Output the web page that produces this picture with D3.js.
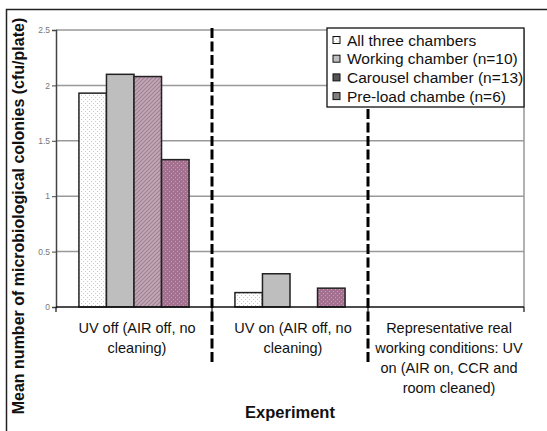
<!DOCTYPE html>
<html>
<head>
<meta charset="utf-8">
<script src="https://cdn.jsdelivr.net/npm/d3@7"></script>
<style>
  html, body { margin: 0; padding: 0; background: #fff; overflow: hidden; }
  svg { display: block; }
</style>
</head>
<body>
<svg width="547" height="431" font-family="Arial, 'Liberation Sans', sans-serif"></svg>
<script>
const categories = [
	['UV off (AIR off, no', 'cleaning)'],
	['UV on (AIR off, no', 'cleaning)'],
	['Representative real', 'working conditions: UV', 'on (AIR on, CCR and', 'room cleaned)']
];
const series = ['All three chambers', 'Working chamber (n=10)', 'Carousel chamber (n=13)', 'Pre-load chambe (n=6)'];
const values = [
	[1.93, 2.10, 2.08, 1.33],
	[0.13, 0.30, 0, 0.17],
	[0, 0, 0, 0]
];
const yTicks = [0, 0.5, 1, 1.5, 2, 2.5];

const svg = d3.select('svg');
const width = +svg.attr('width'),
	height = +svg.attr('height');

const margin = { top: 30, right: 23, bottom: 124, left: 56 },
	innerWidth = width - margin.left - margin.right,
	innerHeight = height - margin.top - margin.bottom;

// patterns for the bar fills
const defs = svg.append('defs');
const dots = (id, bg, fg) => {
	const p = defs.append('pattern').attr('id', id)
		.attr('width', 4).attr('height', 4).attr('patternUnits', 'userSpaceOnUse');
	p.append('rect').attr('width', 4).attr('height', 4).attr('fill', bg);
	p.append('rect').attr('x', 1).attr('y', 1).attr('width', 1).attr('height', 1).attr('fill', fg);
	p.append('rect').attr('x', 3).attr('y', 3).attr('width', 1).attr('height', 1).attr('fill', fg);
};
dots('p0', '#ffffff', '#c8c8c8');
dots('p3', '#a47290', '#c49ab2');
const hatch = defs.append('pattern').attr('id', 'p2')
	.attr('width', 4).attr('height', 4).attr('patternUnits', 'userSpaceOnUse');
hatch.append('rect').attr('width', 4).attr('height', 4).attr('fill', '#c2a9b8');
hatch.append('path').attr('d', 'M-1,1 L1,-1 M0,4 L4,0 M3,5 L5,3')
	.attr('stroke', '#a08092').attr('stroke-width', 1.2);
const fills = ['url(#p0)', '#bebebe', 'url(#p2)', 'url(#p3)'];

// outer frame (only top and left edges are inside the picture)
svg.append('path')
	.attr('d', `M6.5,${height} V9.5 H${width}`)
	.attr('fill', 'none').attr('stroke', '#222').attr('stroke-width', 1.5);

const xScale = d3.scaleBand()
	.domain(d3.range(categories.length))
	.range([0, innerWidth]);

const xSub = d3.scaleBand()
	.domain(d3.range(series.length))
	.range([xScale.bandwidth() * 0.147, xScale.bandwidth() * 0.853]);

const yScale = d3.scaleLinear()
	.domain([0, 2.5])
	.range([innerHeight, 0]);

const g = svg.append('g')
	.attr('transform', `translate(${margin.left}, ${margin.top})`);

// gridlines
g.append('g').selectAll('line').data(yTicks.filter(d => d > 0)).join('line')
	.attr('x1', 0).attr('x2', innerWidth)
	.attr('y1', d => yScale(d)).attr('y2', d => yScale(d))
	.attr('stroke', '#999').attr('stroke-width', 1.5);

g.append('line')
	.attr('x1', innerWidth).attr('x2', innerWidth)
	.attr('y1', 0).attr('y2', innerHeight)
	.attr('stroke', '#999').attr('stroke-width', 1.5);

// bars
const groups = g.selectAll('.grp').data(values).join('g')
	.attr('class', 'grp')
	.attr('transform', (d, i) => `translate(${xScale(i)}, 0)`);

groups.selectAll('rect').data(d => d.map((v, j) => ({ v, j })).filter(d => d.v > 0)).join('rect')
	.attr('x', d => xSub(d.j))
	.attr('width', xSub.bandwidth())
	.attr('y', d => yScale(d.v))
	.attr('height', d => innerHeight - yScale(d.v))
	.attr('fill', d => fills[d.j])
	.attr('stroke', '#222').attr('stroke-width', 1.5);

// y axis
const yAxis = d3.axisLeft(yScale)
	.tickValues(yTicks)
	.tickFormat(d3.format('~g'))
	.tickSize(4)
	.tickPadding(2);

const yAxisG = g.append('g').call(yAxis)
	.attr('font-family', null);
yAxisG.select('.domain').attr('stroke', '#444').attr('stroke-width', 1.5);
yAxisG.selectAll('.tick line').attr('stroke', '#444');
yAxisG.selectAll('.tick text').attr('fill', '#777').attr('font-size', 8.5);

// x axis
const xAxisG = g.append('g')
	.attr('transform', `translate(0, ${innerHeight})`);
xAxisG.append('line')
	.attr('x1', 0).attr('x2', innerWidth)
	.attr('stroke', '#111').attr('stroke-width', 1.5);
xAxisG.selectAll('.xt').data(d3.range(categories.length + 1)).join('line')
	.attr('class', 'xt')
	.attr('x1', i => i < categories.length ? xScale(i) : innerWidth)
	.attr('x2', i => i < categories.length ? xScale(i) : innerWidth)
	.attr('y1', 0).attr('y2', 5)
	.attr('stroke', '#111').attr('stroke-width', 1.2);

xAxisG.selectAll('.cat').data(categories).join('text')
	.attr('class', 'cat')
	.attr('text-anchor', 'middle')
	.attr('font-size', 14.5)
	.attr('fill', '#111')
	.attr('transform', (d, i) => `translate(${xScale(i) + xScale.bandwidth() / 2 + 3}, 26)`)
	.selectAll('tspan').data(d => d).join('tspan')
	.attr('x', 0)
	.attr('y', (d, i) => i * 20)
	.text(d => d);

// dashed separators
g.selectAll('.sep').data([1, 2]).join('line')
	.attr('class', 'sep')
	.attr('x1', i => xScale(i)).attr('x2', i => xScale(i))
	.attr('y1', -2).attr('y2', innerHeight + 55)
	.attr('stroke', '#000').attr('stroke-width', 3)
	.attr('stroke-dasharray', '10 3.5');

// axis titles
g.append('text')
	.attr('x', innerWidth / 2)
	.attr('y', innerHeight + 111)
	.attr('text-anchor', 'middle')
	.attr('font-size', 16.5)
	.attr('font-weight', 'bold')
	.attr('fill', '#111')
	.text('Experiment');

svg.append('text')
	.attr('transform', `translate(24, 216) rotate(-90)`)
	.attr('text-anchor', 'middle')
	.attr('font-size', 16)
	.attr('font-weight', 'bold')
	.attr('fill', '#111')
	.text('Mean number of microbiological colonies (cfu/plate)');

// legend
const legend = svg.append('g').attr('transform', 'translate(327, 28)');
legend.append('rect')
	.attr('width', 197).attr('height', 79)
	.attr('fill', '#fff').attr('stroke', '#111').attr('stroke-width', 1.3);

const items = legend.selectAll('.item').data(series).join('g')
	.attr('class', 'item')
	.attr('transform', (d, i) => `translate(6, ${12 + i * 18.7})`);
items.append('rect')
	.attr('x', 0).attr('y', -3.5)
	.attr('width', 7).attr('height', 7)
	.attr('fill', (d, i) => i === 2 ? '#555' : i === 3 ? '#808080' : fills[i])
	.attr('stroke', '#111').attr('stroke-width', 1);
items.append('text')
	.attr('x', 14).attr('y', 5.5)
	.attr('font-size', 15.5)
	.attr('fill', '#111')
	.text(d => d);
</script>
</body>
</html>
